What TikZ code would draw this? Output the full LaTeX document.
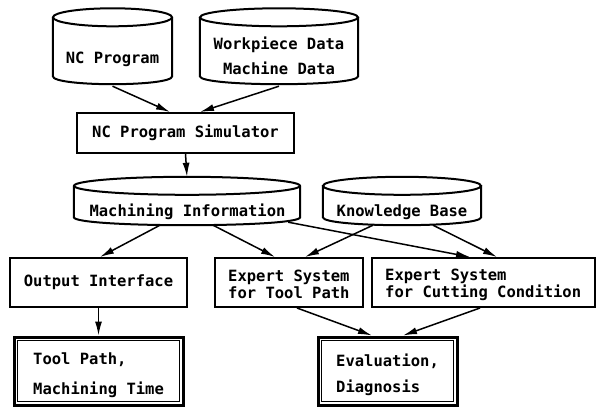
\documentclass[tikz,border=0pt]{standalone}
\usepackage{fontspec}
\setmonofont{DejaVu Sans Mono}
\usetikzlibrary{arrows.meta}
\newcommand\drawcyl[2]{%
  \draw[cylline] (#1.north west) -- ([yshift=8pt]#1.south west)
    .. controls ([yshift=-2.67pt]#1.south west) and ([yshift=-2.67pt]#1.south east) ..
    ([yshift=8pt]#1.south east) -- (#1.north east);
  \draw[cylline] (#1.north) ellipse [x radius=#2pt, y radius=9pt];}
\newcommand\innerbox[1]{%
  \draw[line width=1.2pt] ([shift={(5pt,-5pt)}]#1.north west) rectangle ([shift={(-5pt,5pt)}]#1.south east);}
\begin{document}
\begin{tikzpicture}[x=1pt,y=-1pt,
  txt/.style={font=\ttfamily\bfseries\fontsize{15.5}{18}\selectfont, inner sep=0pt},
  box/.style={draw, line width=2pt, rectangle, inner sep=0pt},
  dbox/.style={draw, line width=3pt, rectangle, inner sep=0pt},
  body/.style={rectangle, inner sep=0pt},
  cylline/.style={line width=2pt},
  arr/.style={-{Latex[length=14pt,width=7pt]}, line width=1.5pt},
]
\useasboundingbox (0,0) rectangle (596,409);
% cylinders
\node[body, minimum width=119pt, minimum height=66.5pt] (ncp) at (112.5,50.75) {};
\drawcyl{ncp}{59.5}
\node[txt] (ncpt) at (112.5,59) {NC Program};
\node[body, minimum width=158pt, minimum height=66.5pt] (wp) at (279,50.75) {};
\drawcyl{wp}{79}
\node[txt, align=center, font=\ttfamily\bfseries\fontsize{15.5}{25}\selectfont] (wpt) at (279,55.5) {Workpiece Data\\Machine Data};
\node[body, minimum width=226pt, minimum height=39pt] (mi) at (187,205.5) {};
\drawcyl{mi}{113}
\node[txt] (mit) at (187.5,212) {Machining Information};
\node[body, minimum width=158pt, minimum height=39pt] (kb) at (402,205.5) {};
\drawcyl{kb}{79}
\node[txt] (kbt) at (402,212) {Knowledge Base};
% boxes
\node[box, txt, minimum width=217pt, minimum height=40pt] (sim) at (185.5,133) {NC Program Simulator};
\node[box, txt, minimum width=177pt, minimum height=49pt] (oi) at (98.5,282.5) {Output Interface};
\node[box, minimum width=148pt, minimum height=49pt] (et) at (289,282.5) {};
\node[txt, anchor=west, align=left, font=\ttfamily\bfseries\fontsize{15.5}{17}\selectfont] (ett) at (228,284.5) {Expert System\\for Tool Path};
\node[box, minimum width=223pt, minimum height=49pt] (ec) at (483.5,282.5) {};
\node[txt, anchor=west, align=left, font=\ttfamily\bfseries\fontsize{15.5}{17}\selectfont] (ect) at (385,284.5) {Expert System\\for Cutting Condition};
\node[dbox, minimum width=169pt, minimum height=68pt] (tp) at (98.5,371) {};
\innerbox{tp}
\node[txt, anchor=west, align=left, font=\ttfamily\bfseries\fontsize{15.5}{30}\selectfont] (tpt) at (33,375) {Tool Path,\\Machining Time};
\node[dbox, minimum width=139pt, minimum height=68pt] (ev) at (387.5,371) {};
\innerbox{ev}
\node[txt, anchor=west, align=left, font=\ttfamily\bfseries\fontsize{15.5}{26}\selectfont] (evt) at (336,375) {Evaluation,\\Diagnosis};
% connectors
\draw[arr] ([yshift=-2pt]ncp.south) -- ([xshift=-15.5pt]sim.north);
\draw[arr] ([yshift=-2pt]wp.south) -- ([xshift=14.5pt]sim.north);
\draw[arr] (sim.south) -- ([yshift=9pt]mi.north);
\draw[arr] ([xshift=-27pt]mi.south) -- ([xshift=1.5pt]oi.north);
\draw[arr] ([xshift=26pt]mi.south) -- ([xshift=-14pt]et.north);
\draw[arr] ([xshift=-12pt,yshift=3pt]mi.south east) -- ([xshift=-13.5pt]ec.north);
\draw[arr] ([xshift=-29pt]kb.south) -- ([xshift=16pt]et.north);
\draw[arr] ([xshift=31pt]kb.south) -- ([xshift=13.5pt]ec.north);
\draw[arr] (oi.south) -- (tp.north);
\draw[arr] ([xshift=8pt]et.south) -- ([xshift=-15.5pt]ev.north);
\draw[arr] ([xshift=-3.5pt]ec.south) -- ([xshift=15.5pt]ev.north);
\end{tikzpicture}
\end{document}
